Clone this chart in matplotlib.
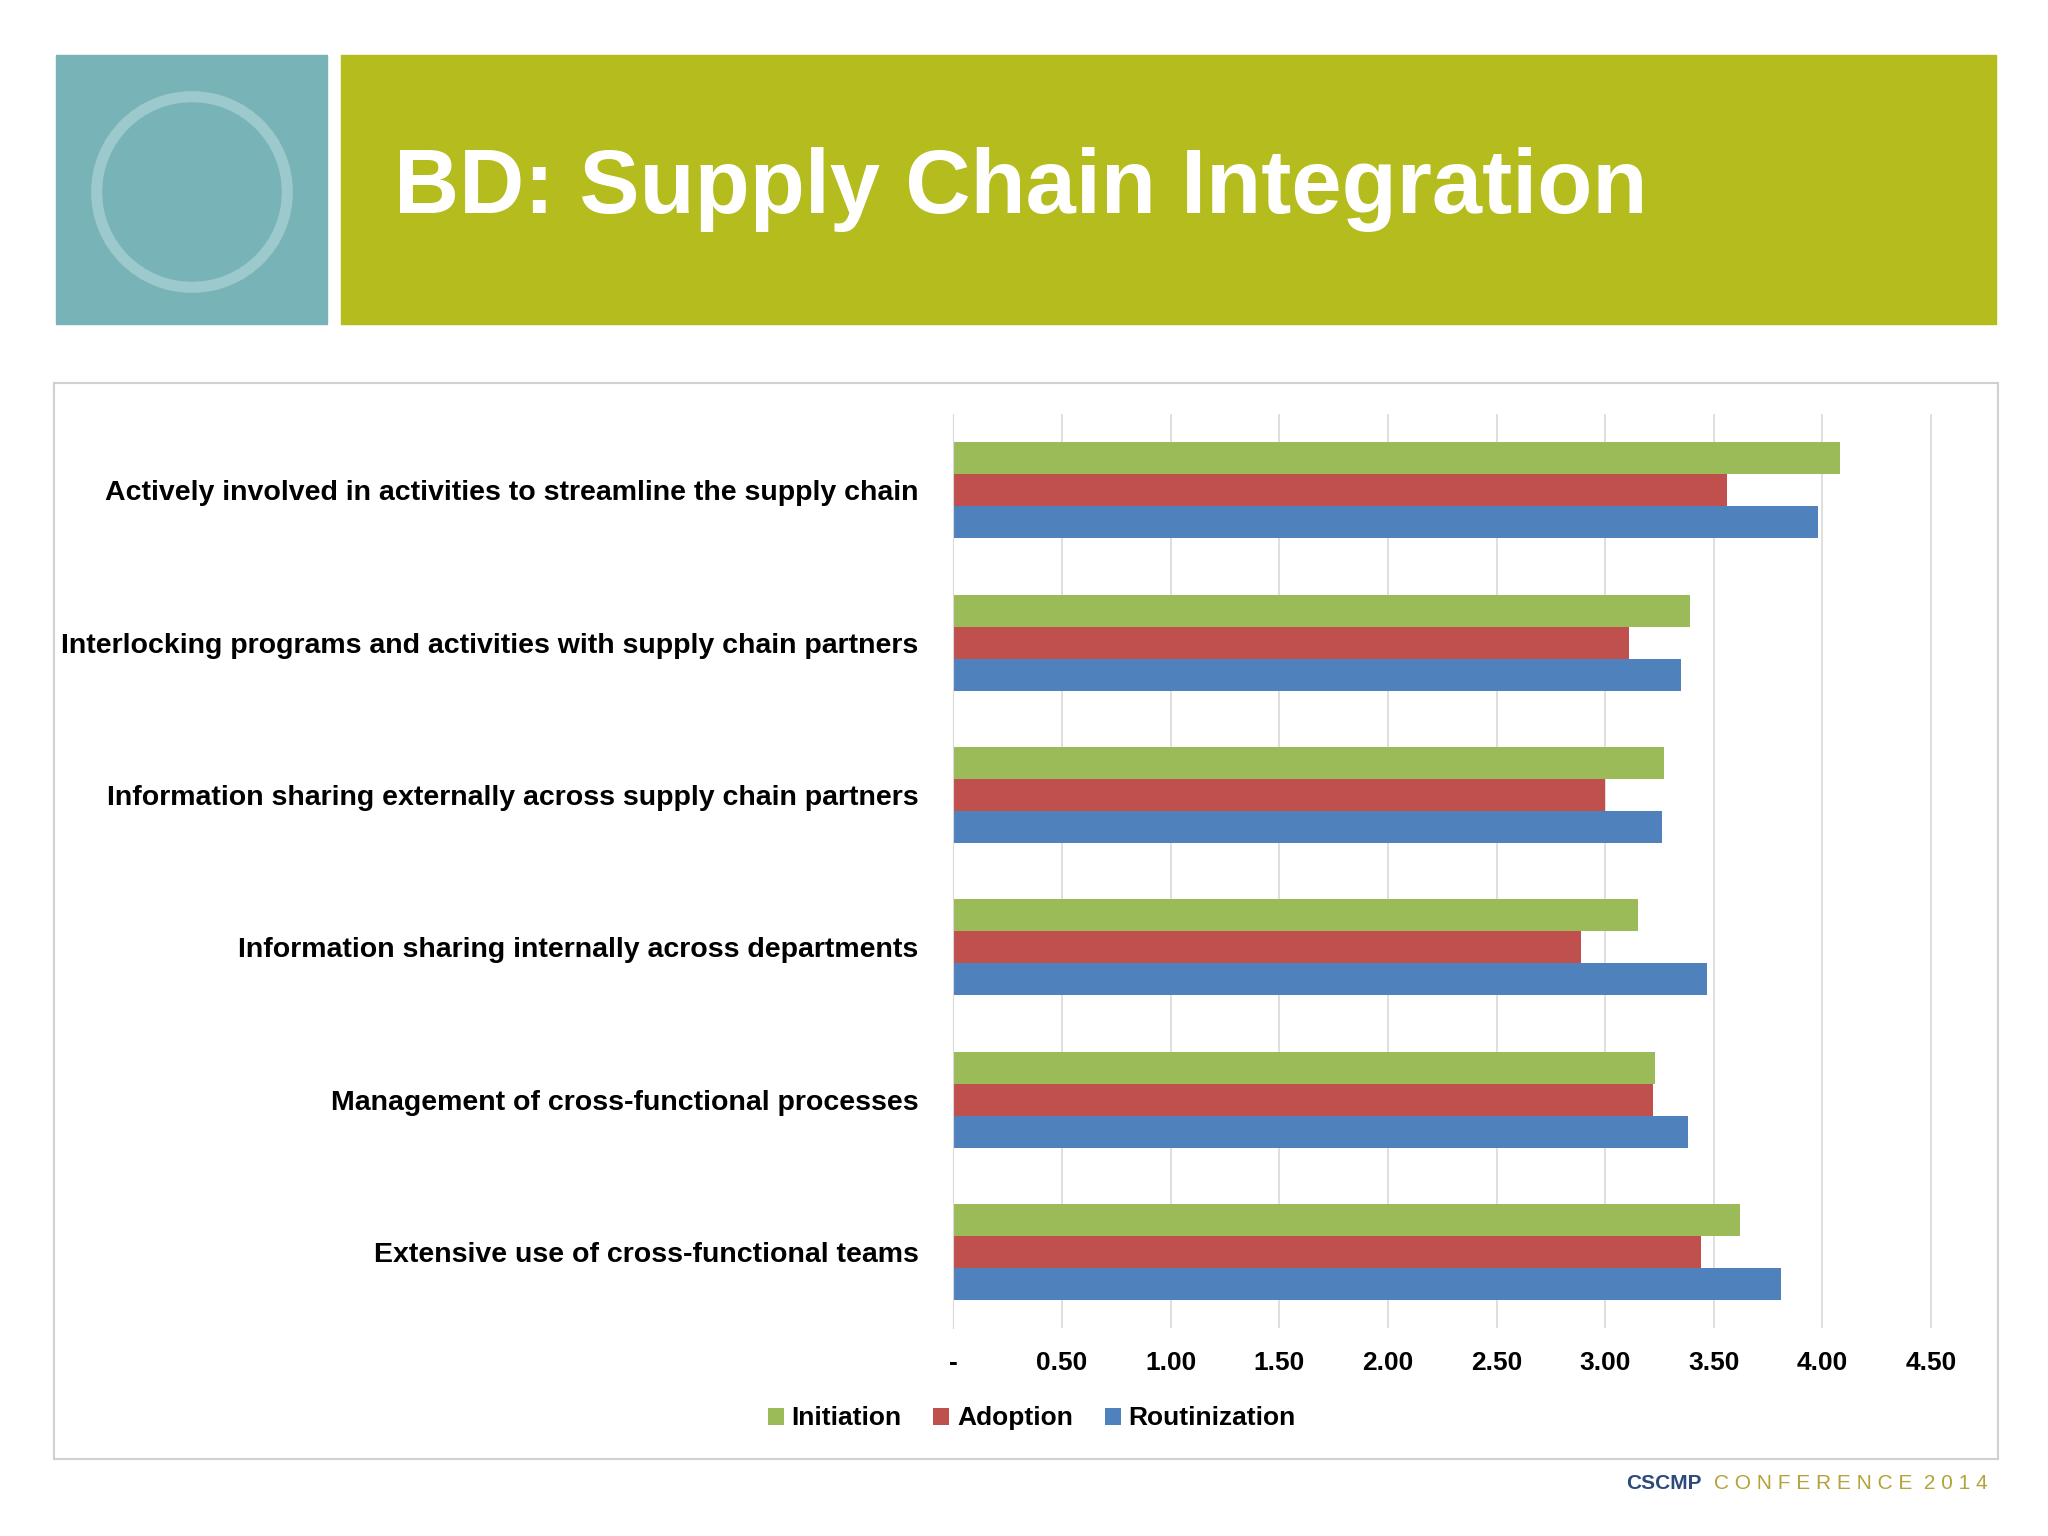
import matplotlib
matplotlib.use("Agg")
import matplotlib.pyplot as plt
import matplotlib.patches as mp
import numpy as np

categories = ["Actively involved in activities to streamline the supply chain",
              "Interlocking programs and activities with supply chain partners",
              "Information sharing externally across supply chain partners",
              "Information sharing internally across departments",
              "Management of cross-functional processes",
              "Extensive use of cross-functional teams"]
initiation = [4.08, 3.39, 3.27, 3.15, 3.23, 3.62]
adoption = [3.56, 3.11, 3.00, 2.89, 3.22, 3.44]
routinization = [3.98, 3.35, 3.26, 3.47, 3.38, 3.81]
tick_vals = [0, 0.5, 1.0, 1.5, 2.0, 2.5, 3.0, 3.5, 4.0, 4.5]
tick_labels = ["-", "0.50", "1.00", "1.50", "2.00", "2.50", "3.00", "3.50", "4.00", "4.50"]

W, H = 1568, 1176
def fx(x): return x / W
def fy(y): return 1 - y / H

fig = plt.figure(figsize=(20.48, 15.36), dpi=100)
plt.rcParams['font.family'] = ['Liberation Sans', 'DejaVu Sans']

# header
fig.patches.append(mp.Rectangle((fx(43), fy(248)), fx(250)-fx(43), fy(42)-fy(248),
                                transform=fig.transFigure, color="#78b3b8"))
fig.patches.append(mp.Rectangle((fx(261), fy(248)), fx(1528)-fx(261), fy(42)-fy(248),
                                transform=fig.transFigure, color="#b4bc1e"))
fig.patches.append(mp.Ellipse((fx(147), fy(147)), 146/W, 146/H, transform=fig.transFigure,
                              fill=False, ec="#9cc9cc", lw=8))
fig.text(fx(302), fy(145), "BD: Supply Chain Integration", color="white",
         fontsize=65, fontweight="bold", va="center", ha="left")

# panel
fig.patches.append(mp.Rectangle((fx(41), fy(1117)), fx(1530)-fx(41), fy(293)-fy(1117),
                                transform=fig.transFigure, fill=False, ec="#d0d0d0", lw=1.5))

ax = fig.add_axes([fx(730), fy(1017), fx(1510)-fx(730), fy(317)-fy(1017)])
n = len(categories)
y = np.arange(n)[::-1]
h = 0.21
ax.barh(y + h, initiation, h, color="#9bbb59", label="Initiation")
ax.barh(y, adoption, h, color="#c0504d", label="Adoption")
ax.barh(y - h, routinization, h, color="#4f81bd", label="Routinization")
ax.set_ylim(-0.5, n - 0.5)
ax.set_xlim(0, 4.69)
ax.set_xticks(tick_vals)
ax.set_xticklabels(tick_labels, fontsize=19, fontweight="bold")
ax.set_yticks(y)
ax.set_yticklabels(categories, fontsize=20.5, fontweight="bold")
ax.tick_params(length=0, pad=26)
ax.tick_params(axis='y', pad=25)
ax.tick_params(axis='x', pad=16)
ax.xaxis.grid(True, color="#d9d9d9", lw=1.2)
ax.set_axisbelow(True)
for s in ["top", "right", "bottom"]:
    ax.spines[s].set_visible(False)
ax.spines["left"].set_color("#d9d9d9")
fig.legend(loc="center", bbox_to_anchor=(fx(790), fy(1086)), ncol=3, frameon=False,
           prop={"weight": "bold", "size": 19}, handlelength=0.6,
           handleheight=0.6, columnspacing=1.2, handletextpad=0.3)

fig.text(fx(1245), fy(1136), "CSCMP", color="#2e4a7a", fontsize=15, fontweight="bold", va="center")
fig.text(fx(1312), fy(1136), "C O N F E R E N C E  2 0 1 4", color="#b4a33a", fontsize=15, va="center")

fig.savefig("out.png", dpi=100, facecolor="white")
